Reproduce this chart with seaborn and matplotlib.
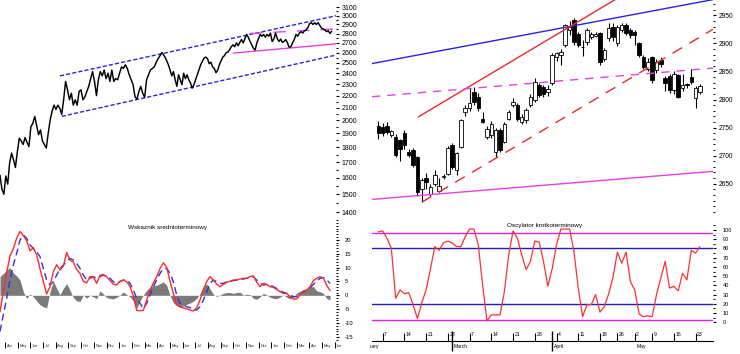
import numpy as np
import pandas as pd
import matplotlib
matplotlib.use("Agg")
import matplotlib.pyplot as plt
import seaborn as sns
from matplotlib.ticker import FixedLocator, FixedFormatter, NullFormatter, MultipleLocator
from matplotlib.transforms import Bbox, TransformedBbox, blended_transform_factory

sns.set_theme(style="white")
plt.rcParams["font.family"] = ["Liberation Sans", "DejaVu Sans"]

# ---------------- data: long-term index (log scale), months since 1 Mar 2009 ----------------
PRICE_A = [1615, 1530, 1500, 1610, 1560, 1695, 1760, 1715, 1665, 1770, 1865, 1845, 1820, 1870,
           1835, 1805, 1950, 1975, 2030, 1960, 1890, 1925, 1845, 1820, 1795, 1900, 2000, 2070,
           2120, 2085, 2120, 2095, 2045, 2165, 2325, 2250, 2165, 2220, 2120, 2165, 2120, 2235,
           2250, 2165, 2190, 2235, 2280, 2350, 2415, 2325, 2200, 2340, 2415, 2375, 2430, 2350,
           2400, 2325, 2430, 2325, 2350, 2340, 2400, 2460, 2445, 2480, 2445, 2385, 2340, 2295,
           2190, 2170, 2235, 2280, 2220, 2185, 2340, 2385, 2430, 2445, 2460, 2505, 2540, 2570,
           2600, 2570]
PRICE_B = [2555, 2520, 2480, 2430, 2375, 2415, 2340, 2280, 2385, 2340, 2295, 2400, 2350, 2385,
           2340, 2310, 2265, 2295, 2340, 2385, 2430, 2480, 2515, 2545, 2555, 2540, 2490, 2505,
           2460, 2445, 2405, 2430, 2480, 2520, 2555, 2570, 2600, 2605, 2630, 2660, 2680, 2660,
           2700, 2670, 2705, 2735, 2700, 2745, 2790, 2760, 2715, 2680, 2645, 2625, 2700, 2745,
           2790, 2770, 2790, 2760, 2790, 2770, 2805, 2715, 2740, 2805, 2745, 2715, 2740, 2705,
           2715, 2735, 2700, 2655, 2660, 2700, 2735, 2790, 2770, 2805, 2820, 2805, 2830, 2840,
           2865, 2910, 2920, 2900, 2920, 2900, 2920, 2890, 2860, 2850, 2840, 2820, 2830, 2800,
           2825]
SEG_A = (0.6, 13.53)
SEG_B = (13.61, 26.76)

# trend lines on the long-term chart: (t0, v0, t1, v1)
LT_UPPER = (5.33, 2375, 27.1, 3000)
LT_LOWER = (5.47, 2030, 27.1, 2575)
LT_MAG_SOLID = (19.0, 2595, 27.1, 2690)
LT_MAG_DASH = (20.3, 2800, 27.1, 2850)

# medium-term indicator
MID_RED = [-5.9, 1.3, 8.0, 14.2, 16.8, 20.5, 23.0, 21.5, 19.6, 16.0,
           17.1, 14.5, 9.5, 4.9, 0.5, 3.1, 8.5, 11.0, 9.1, 10.5,
           15.4, 12.6, 12.0, 9.3, 7.9, 5.0, 4.5, 6.7, 6.6, 4.3,
           7.2, 7.5, 6.7, 5.3, 4.0, 3.7, 5.1, 5.5, 4.9, 3.2,
           -0.3, -5.4, -5.6, -5.4, -1.7, 1.8, 4.4, 6.7, 9.6, 11.7,
           10.0, 5.0, 0.7, -3.3, -4.1, -4.6, -4.8, -5.3, -5.6, -4.5,
           -1.7, 1.9, 5.0, 6.7, 5.5, 4.0, 3.1, 3.9, 4.7, 5.1,
           5.5, 5.5, 5.9, 6.1, 6.1, 6.7, 7.0, 4.7, 3.1, 4.3,
           3.9, 3.1, 2.9, 2.1, 1.3, 0.7, 0.7, -0.5, -1.3, -1.3,
           0.1, 1.5, 1.9, 3.1, 5.3, 6.1, 6.7, 6.2, 3.6, 1.7]
MID_SIGNAL = [-13.0, -7.0, -1.1, 5.5, 10.9, 15.1, 19.9, 21.7, 20.5, 18.1,
              16.9, 15.7, 13.9, 9.7, 5.5, 3.7, 4.9, 7.3, 9.7, 10.9,
              12.1, 13.3, 12.7, 11.5, 9.7, 7.3, 5.5, 6.1, 6.7, 6.1,
              6.7, 7.3, 6.7, 6.1, 4.9, 4.3, 4.9, 5.5, 5.5, 4.3,
              1.9, -1.1, -2.9, -4.7, -2.9, 0.1, 3.1, 5.5, 7.9, 9.7,
              9.7, 7.9, 4.9, 0.1, -2.9, -3.5, -4.1, -4.4, -5.3, -5.3,
              -4.1, -1.7, 1.3, 4.3, 5.5, 4.9, 4.3, 4.3, 4.9, 4.9,
              5.3, 5.5, 5.5, 5.9, 6.1, 6.3, 6.7, 5.5, 4.3, 3.7,
              3.9, 3.7, 3.1, 2.5, 1.6, 1.1, 0.7, 0.1, -0.5, -0.5,
              0.4, 1.3, 1.9, 2.8, 3.9, 5.1, 6.1, 6.3, 5.5, 4.3]
MID_HIST = [6.7, 7.9, 9.0, 10.0, 8.0, 7.0, 5.5, 1.3, -1.1, 0.5,
            -0.5, -2.0, -3.4, -4.1, -4.5, 1.3, 5.1, 2.5, 0.2, 2.5,
            4.2, 1.8, -0.8, -2.0, -2.2, 0.1, -1.0, 0.0, -0.5, -1.2,
            1.6, 0.5, -0.8, -1.1, -1.3, -0.7, 0.1, 1.2, 0.3, -0.5,
            -2.0, -4.7, -2.0, 0.1, 1.8, 3.0, 3.5, 3.6, 4.2, 4.8,
            3.6, 0.0, -2.7, -3.7, -4.4, -3.8, -3.2, -2.8, -2.1, -1.1,
            0.6, 3.2, 4.1, 2.3, 0.4, -0.4, 0.1, 0.7, 1.0, 1.0,
            0.7, 1.0, 1.1, 0.1, 0.4, 0.3, -1.1, -1.4, -0.6, 0.7,
            0.2, -0.7, -1.1, -1.2, -0.6, 0.1, -0.7, -1.3, -0.5, 0.8,
            1.5, 1.9, 2.2, 3.1, 3.1, 1.6, 1.3, 0.7, -1.1, -1.7]
MID_SPAN = (0.6, 26.63)
LT_MONTH_TICKS = list(range(1, 28))
MONTH_ABBR = ["Mar", "Apr", "May", "Jun", "Jul", "Aug", "Sep", "Oct", "Nov", "Dec", "Jan", "Feb"]

# ---------------- data: daily candles 4 Feb - 24 May 2011 ----------------
OPEN = [2752, 2751, 2752, 2737, 2733, 2727, 2740, 2706, 2710, 2698, 2641, 2661, 2632, 2650, 2637,
        2662, 2668, 2719, 2674, 2716, 2778, 2784, 2814, 2805, 2766, 2733, 2736, 2707, 2745, 2725,
        2766, 2790, 2790, 2760, 2763, 2790, 2799, 2826, 2822, 2813, 2829, 2876, 2880, 2897, 2924,
        2942, 2916, 2894, 2903, 2912, 2914, 2918, 2873, 2909, 2930, 2900, 2924, 2933, 2924, 2921,
        2900, 2876, 2855, 2876, 2852, 2870, 2838, 2841, 2817, 2843, 2820, 2827, 2840, 2802, 2814]
HIGH = [2762, 2758, 2760, 2746, 2739, 2730, 2745, 2712, 2714, 2700, 2660, 2669, 2650, 2675, 2660,
        2668, 2718, 2722, 2706, 2765, 2790, 2820, 2822, 2812, 2778, 2752, 2762, 2750, 2750, 2760,
        2782, 2802, 2793, 2775, 2784, 2810, 2838, 2830, 2825, 2826, 2882, 2885, 2890, 2935, 2940,
        2946, 2920, 2906, 2928, 2920, 2920, 2921, 2892, 2936, 2936, 2933, 2936, 2936, 2928, 2924,
        2903, 2880, 2874, 2878, 2872, 2876, 2842, 2845, 2850, 2846, 2845, 2830, 2855, 2824, 2827]
LOW = [2730, 2735, 2738, 2733, 2698, 2690, 2712, 2697, 2680, 2628, 2617, 2640, 2628, 2645, 2635,
       2658, 2665, 2676, 2665, 2714, 2770, 2780, 2790, 2780, 2758, 2730, 2732, 2697, 2707, 2722,
       2764, 2786, 2762, 2757, 2758, 2786, 2795, 2805, 2805, 2806, 2825, 2868, 2862, 2893, 2915,
       2898, 2893, 2878, 2898, 2907, 2911, 2862, 2868, 2905, 2905, 2895, 2920, 2915, 2910, 2898,
       2876, 2855, 2850, 2830, 2848, 2858, 2815, 2812, 2810, 2803, 2815, 2820, 2828, 2784, 2810]
CLOSE = [2740, 2740, 2742, 2743, 2701, 2711, 2719, 2701, 2683, 2635, 2656, 2653, 2644, 2665, 2645,
         2663, 2713, 2680, 2704, 2763, 2784, 2793, 2796, 2784, 2760, 2748, 2757, 2745, 2710, 2757,
         2778, 2796, 2766, 2769, 2781, 2805, 2832, 2808, 2810, 2819, 2879, 2882, 2885, 2933, 2930,
         2903, 2898, 2893, 2924, 2916, 2917, 2867, 2888, 2927, 2912, 2930, 2933, 2918, 2915, 2915,
         2879, 2858, 2867, 2834, 2867, 2864, 2829, 2817, 2846, 2805, 2826, 2825, 2832, 2821, 2824]

# short-term trend lines: (session0, v0, session1, v1)
ST_BLUE = (-1.45, 2864, 77.0, 2978)
ST_RED = (9.2, 2769, 56.0, 2985)
ST_RED_DASH = (10.0, 2617, 77.4, 2927)
ST_MAG_DASH = (-1.45, 2805, 77.0, 2856)
ST_MAG_SOLID = (-1.45, 2622, 77.0, 2672)

# short-term oscillator, one value per session
OSC = [98, 99, 91, 80, 26, 35, 31, 32, 19, 4, 21, 35, 58, 82, 78, 86, 88, 86, 82, 82,
       93, 101, 101, 84, 40, 1.5, 8, 8, 8, 33, 73, 99, 91, 73, 57, 66, 88, 87, 66, 39,
       58, 84, 101, 101, 101, 77, 37, 6, 19, 19, 30, 11, 17, 31, 49, 76, 64, 76, 44, 35,
       9, 6, 7, 6, 30, 48, 66, 37, 39, 34, 53, 46, 78, 75, 82]
OSC_OUTER = [97, 3]
OSC_INNER = [80, 20]
WEEK_IDX = [1, 6, 11, 16, 21, 26, 31, 36, 41, 46, 51, 55, 59, 63, 68, 73]
WEEK_LABELS = ["7", "14", "21", "28", "7", "14", "21", "28", "4", "11", "18", "26", "2", "9", "16", "23"]
MONTH_IDX = [17, 40, 59]
MONTH_LABELS = ["March", "April", "May"]

# ---------------- figure ----------------
W, H = 740, 354
fig = plt.figure(figsize=(W / 100, H / 100), dpi=100)
fig.patch.set_facecolor("white")


def px_axes(x0, y0, x1, y1):
    ax = fig.add_axes([x0 / W, 1 - y1 / H, (x1 - x0) / W, (y1 - y0) / H])
    ax.set_facecolor("white")
    for s in ax.spines.values():
        s.set_visible(False)
    ax.grid(False)
    return ax


def seg(ax, line, **kw):
    t0, v0, t1, v1 = line
    ax.plot([t0, t1], [v0, v1], **kw)


BLUE = "#2424e0"
RED = "#f02828"
MAG = "#e840e8"

# ---- top left: long-term price ----
ax1 = px_axes(0, 0, 336, 215)
tA = np.linspace(*SEG_A, len(PRICE_A))
tB = np.linspace(*SEG_B, len(PRICE_B))
df_lt = pd.DataFrame({"t": np.r_[tA, tB], "price": PRICE_A + PRICE_B})
seg(ax1, LT_UPPER, color=BLUE, lw=1.0, ls=(0, (3, 1.5)), zorder=1)
seg(ax1, LT_LOWER, color=BLUE, lw=1.0, ls=(0, (3, 1.5)), zorder=1)
seg(ax1, LT_MAG_SOLID, color=MAG, lw=1.0, zorder=1)
seg(ax1, LT_MAG_DASH, color=MAG, lw=1.0, ls=(0, (9, 8)), zorder=1)
sns.lineplot(data=df_lt, x="t", y="price", ax=ax1, color="black", lw=1.05, zorder=2)
ax1.set_yscale("log")
ax1.set_ylim(1384, 3189)
ax1.set_xlim(0.6, 27.1)
ax1.set_xticks([])
ax1.set_xlabel("")
ax1.set_ylabel("")
maj = list(range(1400, 3101, 100))
ax1.yaxis.set_major_locator(FixedLocator(maj))
ax1.yaxis.set_major_formatter(FixedFormatter([str(v) for v in maj]))
ax1.yaxis.set_minor_locator(FixedLocator(list(range(1450, 3100, 100))))
ax1.yaxis.set_minor_formatter(NullFormatter())
ax1.yaxis.tick_right()
ax1.tick_params(axis="y", which="major", direction="out", length=2.5, width=0.8,
                labelsize=5, pad=1.5, colors="black", right=True)
ax1.tick_params(axis="y", which="minor", direction="out", length=1.2, width=0.8,
                colors="black", right=True)

# ---- bottom left: medium-term indicator ----
ax2 = px_axes(0, 220, 336, 342)
tm = np.linspace(*MID_SPAN, len(MID_RED))
ax2.fill_between(tm, 0, MID_HIST, color="#7a7a7a", lw=0, zorder=1)
sns.lineplot(x=tm, y=MID_SIGNAL, ax=ax2, color="#3030e0", lw=1.0, ls=(0, (5, 3)), zorder=2)
sns.lineplot(x=tm, y=MID_RED, ax=ax2, color="#ff2a2a", lw=1.0, zorder=3)
ax2.set_xlim(0.6, 27.1)
ax2.set_ylim(-16.8, 27.1)
ax2.set_xlabel("")
ax2.set_ylabel("")
ax2.yaxis.set_major_locator(FixedLocator(list(range(-15, 21, 5))))
ax2.yaxis.set_major_formatter(FixedFormatter([str(v) for v in range(-15, 21, 5)]))
ax2.yaxis.set_minor_locator(MultipleLocator(1))
ax2.yaxis.tick_right()
ax2.tick_params(axis="y", which="major", direction="out", length=2.5, width=0.8,
                labelsize=4.2, pad=4, colors="black", right=True)
ax2.tick_params(axis="y", which="minor", direction="out", length=1.3, width=0.7,
                colors="black", right=True)
ax2.set_xticks(LT_MONTH_TICKS)
ax2.set_xticklabels([])
ax2.tick_params(axis="x", which="major", direction="out", length=4, width=0.7,
                colors="black", bottom=True)
tr2 = blended_transform_factory(ax2.transData, ax2.transAxes)
for m in LT_MONTH_TICKS:
    ax2.text(m + 0.12, -0.035, MONTH_ABBR[m % 12], transform=tr2, fontsize=2.8,
             ha="left", va="center", color="#333333", clip_on=False)
fig.text(168 / W, 1 - 228 / H, "Wskaznik srednioterminowy", fontsize=4.6,
         ha="center", va="center", color="black")

# ---- top right: candles ----
ax3 = px_axes(372, 0, 713, 215)
idx = np.arange(len(OPEN))
o = np.array(OPEN, float)
c = np.array(CLOSE, float)
ax3.vlines(idx, LOW, HIGH, color="black", lw=0.8, zorder=2)
body = np.maximum(np.abs(c - o), 1.0)
cols = ["white" if cc >= oo else "black" for oo, cc in zip(o, c)]
ax3.bar(idx, body, bottom=np.minimum(o, c), width=0.8, color=cols,
        edgecolor="black", lw=0.6, zorder=2.5)
seg(ax3, ST_BLUE, color=BLUE, lw=1.0, zorder=3)
seg(ax3, ST_RED, color=RED, lw=1.0, zorder=3)
seg(ax3, ST_RED_DASH, color=RED, lw=1.0, ls=(0, (8, 6)), zorder=3)
seg(ax3, ST_MAG_DASH, color=MAG, lw=1.0, ls=(0, (6, 5)), zorder=3)
seg(ax3, ST_MAG_SOLID, color=MAG, lw=1.0, zorder=3)
ax3.set_xlim(-1.45, 77.0)
ax3.set_ylim(2594.2, 2977.3)
ax3.set_xticks([])
ax3.yaxis.set_major_locator(FixedLocator(list(range(2650, 2951, 50))))
ax3.yaxis.set_major_formatter(FixedFormatter([str(v) for v in range(2650, 2951, 50)]))
ax3.yaxis.set_minor_locator(MultipleLocator(10))
ax3.yaxis.tick_right()
ax3.tick_params(axis="y", which="major", direction="out", length=2.5, width=0.8,
                labelsize=4.8, pad=1.5, colors="black", right=True)
ax3.tick_params(axis="y", which="minor", direction="out", length=1.2, width=0.7,
                colors="black", right=True)

# ---- bottom right: oscillator ----
ax4 = px_axes(372, 218, 713, 341)
for v in OSC_OUTER:
    ax4.axhline(v, color="#e020e0", lw=1.0, zorder=1)
for v in OSC_INNER:
    ax4.axhline(v, color="#1c1cc0", lw=1.0, zorder=1)
sns.lineplot(x=idx, y=OSC, ax=ax4, color="#ff3030", lw=0.9, zorder=3)
ax4.set_xlim(-1.45, 77.0)
ax4.set_ylim(-20.3, 113)
ax4.set_xlabel("")
ax4.set_ylabel("")
ax4.spines["bottom"].set_visible(True)
ax4.spines["bottom"].set_color("black")
ax4.spines["bottom"].set_linewidth(0.8)
ax4.yaxis.set_major_locator(FixedLocator(list(range(0, 101, 10))))
ax4.yaxis.set_major_formatter(FixedFormatter([str(v) for v in range(0, 101, 10)]))
ax4.yaxis.set_minor_locator(FixedLocator(list(range(5, 111, 10))))
ax4.yaxis.tick_right()
ax4.tick_params(axis="y", which="major", direction="out", length=2.0, width=0.8,
                labelsize=4.0, pad=5, colors="black", right=True)
ax4.tick_params(axis="y", which="minor", direction="out", length=1.2, width=0.7,
                colors="black", right=True)
ax4.set_xticks(WEEK_IDX)
ax4.set_xticklabels([])
ax4.set_xticks(MONTH_IDX, minor=True)
ax4.tick_params(axis="x", which="major", direction="in", length=6, width=0.8,
                colors="black", bottom=True)
ax4.tick_params(axis="x", which="minor", direction="inout", length=15, width=1.0,
                colors="black", bottom=True)
tr4 = blended_transform_factory(ax4.transData, ax4.transAxes)
for i, lab in zip(WEEK_IDX, WEEK_LABELS):
    ax4.text(i + 0.35, 0.05, lab, transform=tr4, fontsize=3.7, ha="left", va="center",
             color="black")
for i, lab in zip(MONTH_IDX, MONTH_LABELS):
    ax4.text(i + 0.4, -0.045, lab, transform=tr4, fontsize=3.6, ha="left", va="center",
             color="black", clip_on=False)
feb = ax4.text(-4.6, -0.045, "February", transform=tr4, fontsize=3.6, ha="left",
               va="center", color="black")
feb.set_clip_box(TransformedBbox(Bbox([[370 / W, 0], [1, 1]]), fig.transFigure))
feb.set_clip_on(True)
fig.text(545 / W, 1 - 226 / H, "Oscylator krotkoterminowy", fontsize=4.6,
         ha="center", va="center", color="black")

fig.savefig("out.png", dpi=100, facecolor="white")
